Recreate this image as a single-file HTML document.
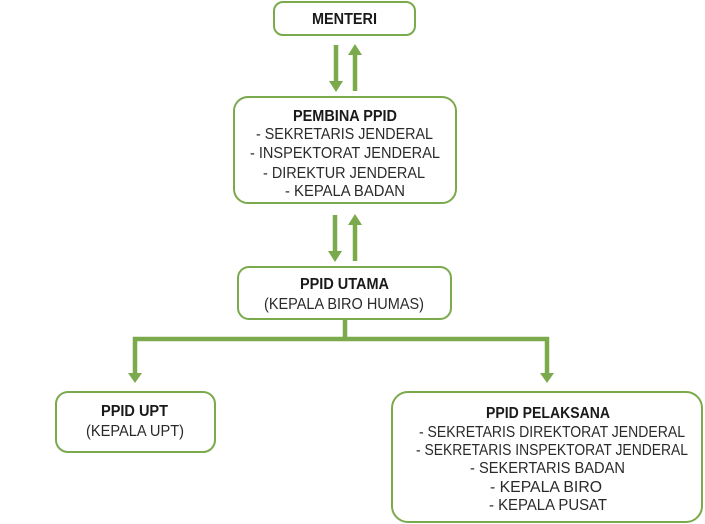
<!DOCTYPE html>
<html><head><meta charset="utf-8"><style>
html,body{margin:0;padding:0;background:#fff;}
svg{display:block}
text{font-family:"Liberation Sans",sans-serif;font-size:15.5px;fill:#2a2a2a;text-anchor:middle}
.b{font-weight:bold;fill:#1a1a1a}
</style></head><body>
<svg width="705" height="524" viewBox="0 0 705 524" xmlns="http://www.w3.org/2000/svg">
<g fill="none" stroke="#7aaa4c" stroke-width="2">
<rect x="274" y="2" width="141" height="33" rx="9"/>
<rect x="234" y="97" width="222" height="106" rx="14"/>
<rect x="238" y="267" width="213" height="52" rx="11"/>
<rect x="56" y="392" width="159" height="60" rx="12"/>
<rect x="392" y="392" width="310" height="130" rx="16"/>
</g>
<g stroke="#7aaa4c" stroke-width="4.5" fill="none">
<line x1="336" y1="45" x2="336" y2="83"/>
<line x1="355" y1="53" x2="355" y2="91"/>
<line x1="335" y1="215" x2="335" y2="253"/>
<line x1="355" y1="223" x2="355" y2="261"/>
<line x1="345" y1="319" x2="345" y2="339"/>
<polyline points="135,375 135,339 547,339 547,375"/>
</g>
<g fill="#7aaa4c">
<polygon points="329,81 343,81 336,92"/>
<polygon points="348,55 362,55 355,44"/>
<polygon points="328,251 342,251 335,262"/>
<polygon points="348,225 362,225 355,214"/>
<polygon points="128,373 142,373 135,383"/>
<polygon points="540,373 554,373 547,383"/>
</g>
<text class="b" x="344.5" y="24" textLength="65" lengthAdjust="spacingAndGlyphs">MENTERI</text>
<text class="b" x="345" y="121" textLength="104" lengthAdjust="spacingAndGlyphs">PEMBINA PPID</text>
<text x="344.5" y="139" textLength="177" lengthAdjust="spacingAndGlyphs">- SEKRETARIS JENDERAL</text>
<text x="345" y="158" textLength="190" lengthAdjust="spacingAndGlyphs">- INSPEKTORAT JENDERAL</text>
<text x="344" y="178" textLength="162" lengthAdjust="spacingAndGlyphs">- DIREKTUR JENDERAL</text>
<text x="345" y="196" textLength="120" lengthAdjust="spacingAndGlyphs">- KEPALA BADAN</text>
<text class="b" x="344.5" y="289" textLength="89" lengthAdjust="spacingAndGlyphs">PPID UTAMA</text>
<text x="344" y="309" textLength="160" lengthAdjust="spacingAndGlyphs">(KEPALA BIRO HUMAS)</text>
<text class="b" x="134.5" y="416" textLength="67" lengthAdjust="spacingAndGlyphs">PPID UPT</text>
<text x="135" y="436" textLength="98" lengthAdjust="spacingAndGlyphs">(KEPALA UPT)</text>
<text class="b" x="548" y="418" textLength="124" lengthAdjust="spacingAndGlyphs">PPID PELAKSANA</text>
<text x="552" y="437" textLength="266" lengthAdjust="spacingAndGlyphs">- SEKRETARIS DIREKTORAT JENDERAL</text>
<text x="552" y="455" textLength="272" lengthAdjust="spacingAndGlyphs">- SEKRETARIS INSPEKTORAT JENDERAL</text>
<text x="547.5" y="473" textLength="155" lengthAdjust="spacingAndGlyphs">- SEKERTARIS BADAN</text>
<text x="546" y="492" textLength="112" lengthAdjust="spacingAndGlyphs">- KEPALA BIRO</text>
<text x="548" y="510" textLength="118" lengthAdjust="spacingAndGlyphs">- KEPALA PUSAT</text>
</svg>
</body></html>
